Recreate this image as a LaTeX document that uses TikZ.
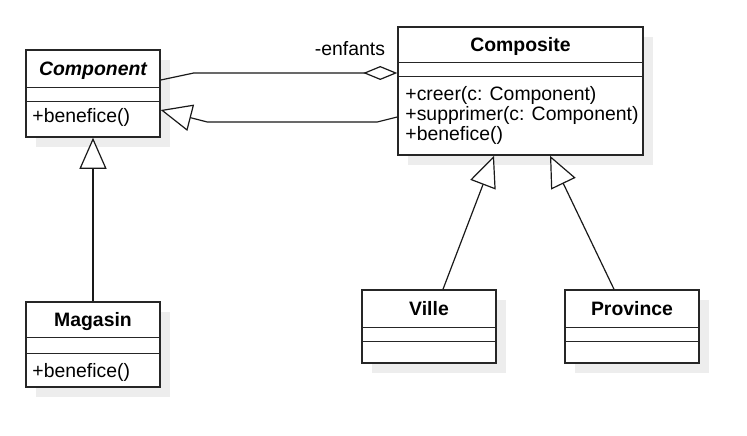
\documentclass[tikz,border=0pt]{standalone}
\usepackage{fontspec}
\setmainfont{Liberation Sans}
\usepackage{tikz}
\usetikzlibrary{arrows.meta}
\usetikzlibrary{shadows}
\newcommand\umlfont{\fontsize{19.4}{20}\selectfont}

\begin{document}
\begin{tikzpicture}[x=1pt,y=-1pt,
        classbox/.style={draw=black!85,line width=1.5pt,fill=white,inner sep=0pt,minimum width=134pt,
            drop shadow={shadow xshift=10pt,shadow yshift=-10pt,fill=black!7,opacity=1}},
        titletext/.style={font=\umlfont\bfseries,anchor=base,inner sep=0pt},
        methtext/.style={font=\umlfont,anchor=base west,inner sep=0pt},
        divider/.style={draw=black!85,line width=1.3pt},
        edge/.style={line width=1.2pt,draw=black!90},
        inherit/.style={edge,-{Triangle[length=31pt,width=27pt,fill=white]}},
        aggr/.style={edge,-{Diamond[length=34pt,width=14pt,fill=white]}}]
        \useasboundingbox (0,0) rectangle (747,436);

        %%% CLASS BOXES %%%
        \node[classbox,minimum height=87pt] (comp) at (93,93.5) {};
        \node[classbox,minimum width=245pt,minimum height=128pt] (cps) at (520.5,91) {};
        \node[classbox,minimum height=85pt] (mag) at (93,344.5) {};
        \node[classbox,minimum height=73pt] (vil) at (429,326.5) {};
        \node[classbox,minimum height=73pt] (prv) at (632,326.5) {};

        %%% DIVIDERS %%%
        \foreach \c/\a/\b in {comp/38/52,cps/36/50,mag/36/52,vil/38/52,prv/38/52}{
            \draw[divider] ([yshift=-\a pt]\c.north west) -- ([yshift=-\a pt]\c.north east);
            \draw[divider] ([yshift=-\b pt]\c.north west) -- ([yshift=-\b pt]\c.north east);
        }

        %%% TITLES %%%
        \node[titletext] (comp-t) at ([yshift=-26pt]comp.north) {\itshape Component};
        \node[titletext] (cps-t) at ([yshift=-25pt]cps.north) {Composite};
        \node[titletext] (mag-t) at ([yshift=-25pt]mag.north) {Magasin};
        \node[titletext] (vil-t) at ([yshift=-26pt]vil.north) {Ville};
        \node[titletext] (prv-t) at ([yshift=-26pt]prv.north) {Province};

        %%% METHODS %%%
        \node[methtext] (comp-m) at ([xshift=7pt,yshift=-73pt]comp.north west) {+benefice()};
        \node[methtext] (mag-m) at ([xshift=7pt,yshift=-76pt]mag.north west) {+benefice()};
        \node[methtext] (cps-m1) at ([xshift=8pt,yshift=-74pt]cps.north west) {+creer(c: Component)};
        \node[methtext] (cps-m2) at ([xshift=8pt,yshift=-94pt]cps.north west) {+supprimer(c: Component)};
        \node[methtext] (cps-m3) at ([xshift=8pt,yshift=-114pt]cps.north west) {+benefice()};

        %%% RELATIONS %%%
        \draw[aggr] ([yshift=13.5pt]comp.east) -- ++(33,-7) -- ([yshift=18pt]cps.west);
        \node[font=\umlfont,anchor=base east,inner sep=0pt] (enf) at ([xshift=-12pt,yshift=35pt]cps.west) {-enfants};
        \draw[inherit] ([yshift=-26pt]cps.west) -- ++(-20,5) -- ++(-170,0) -- ([yshift=-16.5pt]comp.east);
        \draw[inherit] (mag.north) -- (comp.south);
        \draw[inherit] ([xshift=14pt]vil.north) -- ([xshift=-26.5pt]cps.south);
        \draw[inherit] ([xshift=-18pt]prv.north) -- ([xshift=29.5pt]cps.south);
    \end{tikzpicture}
\end{document}
